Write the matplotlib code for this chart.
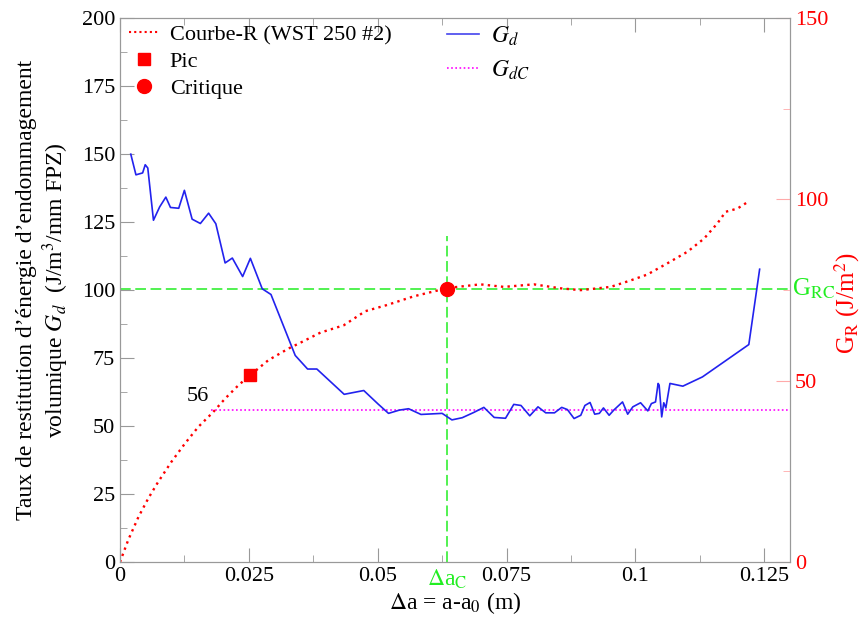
import numpy as np
import matplotlib
matplotlib.use('Agg')
import matplotlib.pyplot as plt
from matplotlib.ticker import MultipleLocator
from matplotlib.lines import Line2D

plt.rcParams['font.family'] = ['Liberation Serif', 'DejaVu Serif']
plt.rcParams['mathtext.fontset'] = 'stix'

# Gd (left axis)
gd_x = [0.0021, 0.0031, 0.0044, 0.0049, 0.0054, 0.0065, 0.0077, 0.0089, 0.0098, 0.0114,
        0.0125, 0.0140, 0.0156, 0.0172, 0.0186, 0.0204, 0.0218, 0.0238, 0.0253, 0.0276,
        0.0293, 0.0340, 0.0364, 0.0382, 0.0435, 0.0473, 0.0501, 0.0521, 0.0542, 0.0560,
        0.0584, 0.0625, 0.0644, 0.0664, 0.0686, 0.0706, 0.0726, 0.0748, 0.0764, 0.0778,
        0.0795, 0.0811, 0.0826, 0.0843, 0.0857, 0.0868, 0.0881, 0.0894, 0.0902, 0.0912,
        0.0921, 0.0930, 0.0938, 0.0949, 0.0958, 0.0975, 0.0985, 0.0995, 0.1010, 0.1024,
        0.1031, 0.1039, 0.1044, 0.1046, 0.1051, 0.1055, 0.1059, 0.1067, 0.1092, 0.1130,
        0.1220, 0.1241]
gd_y = [150, 142.4, 143.1, 146.1, 144.9, 125.7, 130.6, 134.2, 130.4, 130.1,
        136.7, 126.1, 124.5, 128.3, 124.4, 110.0, 111.8, 105.0, 111.7, 100.5,
        98.4, 76.0, 71.0, 71.0, 61.7, 63.1, 58.1, 54.7, 55.9, 56.4,
        54.3, 54.7, 52.3, 53.1, 55.0, 56.9, 53.2, 52.9, 58.0, 57.6,
        53.8, 57.1, 54.9, 54.9, 56.9, 56.1, 52.8, 54.0, 57.6, 58.7,
        54.4, 54.7, 56.7, 54.0, 55.9, 58.9, 54.4, 57.1, 58.6, 55.6,
        58.3, 58.9, 65.7, 65.1, 53.4, 58.6, 56.7, 65.7, 64.7, 68.1,
        80.0, 107.7]

# R-curve (right axis)
gr_x = [0, 0.0016, 0.0036, 0.0055, 0.0074, 0.0100, 0.0126, 0.0152, 0.0181, 0.0204,
        0.0230, 0.0253, 0.0288, 0.0327, 0.0350, 0.0389, 0.0434, 0.0476, 0.0518, 0.0570,
        0.0636, 0.0699, 0.0745, 0.0803, 0.0855, 0.0894, 0.0952, 0.0991, 0.1023, 0.1062,
        0.1101, 0.1133, 0.1159, 0.1175, 0.1198, 0.1220]
gr_y = [0, 6.1, 12.5, 17.6, 22.1, 27.7, 32.7, 37.3, 41.4, 45.1,
        48.8, 51.6, 55.7, 58.9, 60.5, 63.3, 65.3, 69.2, 70.9, 73.3,
        75.6, 76.6, 75.9, 76.6, 75.5, 75.0, 75.9, 77.7, 79.3, 82.4,
        85.6, 89.2, 93.4, 96.6, 97.5, 99.5]

pic = (0.0253, 51.6)
crit = (0.0635, 75.4)
gdc = 56
grc_left = 100.5
da_c = 0.0635

green = '#22ee22'

fig = plt.figure(figsize=(8.68, 6.26), dpi=100)
ax = fig.add_axes([0.1382, 0.102, 0.772, 0.869])
ax2 = ax.twinx()

ax.set_xlim(0, 0.13)
ax.set_ylim(0, 200)
ax2.set_ylim(0, 150)

ax.axhline(grc_left, color=green, lw=1.1, ls=(0, (7, 3)), zorder=1)
ax.plot([da_c, da_c], [0, 120], color=green, lw=1.1, ls=(0, (7, 3)), zorder=1)
ax.plot([0.0177, 0.13], [gdc, gdc], color='magenta', lw=1.2, ls=(0, (1, 1.5)))
ax.plot(gd_x, gd_y, color='#2222ee', lw=1.2)
ax.text(0.0172, gdc + 1.5, '56', fontsize=16, ha='right', va='bottom')

ax2.plot(gr_x, gr_y, color='red', lw=1.7, ls=(0, (1, 1.8)))
ax2.plot(*pic, 's', color='red', ms=9)
ax2.plot(*crit, 'o', color='red', ms=10)

ax.set_xticks([0, 0.025, 0.05, 0.075, 0.1, 0.125])
ax.set_xticklabels(['0', '0.025', '0.05', '0.075', '0.1', '0.125'])
ax.xaxis.set_minor_locator(MultipleLocator(0.0125))
ax.yaxis.set_major_locator(MultipleLocator(25))
ax.yaxis.set_minor_locator(MultipleLocator(12.5))
ax2.yaxis.set_major_locator(MultipleLocator(50))
ax2.yaxis.set_minor_locator(MultipleLocator(25))

ax.tick_params(which='both', direction='in', color='#999999', top=True, labelsize=16)
ax.tick_params(which='major', length=10)
ax.tick_params(which='minor', length=5)
ax2.tick_params(which='both', direction='in', color='#ffaaaa', labelcolor='red', labelsize=16)
ax2.tick_params(which='major', length=10)
ax2.tick_params(which='minor', length=5)
for a in (ax, ax2):
    for s in a.spines.values():
        s.set_color('#999999')

ax.set_xlabel(r'$\Delta$a = a-a$_0$ (m)', fontsize=17, labelpad=3)
ax.set_ylabel("Taux de restitution d\u2019\u00e9nergie d\u2019endommagement\n"
              r"volumique $G_d$  (J/m$^3$/mm FPZ)", fontsize=17, labelpad=8, linespacing=1.15)
fig.text(0.976, 0.515, r'G$_\mathrm{R}$ (J/m$^2$)', color='red', fontsize=18,
         rotation=90, ha='center', va='center')

ax.text(da_c, -0.01, r'$\Delta$a$_\mathrm{C}$', transform=ax.get_xaxis_transform(),
        color=green, fontsize=17, ha='center', va='top')
ax.text(1.003, grc_left, r'G$_\mathrm{RC}$', transform=ax.get_yaxis_transform(),
        color=green, fontsize=18, ha='left', va='center')

h1 = [Line2D([], [], color='red', lw=1.5, ls=(0, (1, 1.5))),
      Line2D([], [], color='red', marker='s', ls='none', ms=9),
      Line2D([], [], color='red', marker='o', ls='none', ms=10)]
leg1 = ax.legend(h1, ['Courbe-R (WST 250 #2)', 'Pic', 'Critique'], loc='upper left',
                 bbox_to_anchor=(-0.017, 1.025), frameon=False, fontsize=16,
                 handlelength=1.35, labelspacing=0.28, handletextpad=0.5)
ax.add_artist(leg1)
h2 = [Line2D([], [], color='#4444ee', lw=1.2),
      Line2D([], [], color='magenta', lw=1.2, ls=(0, (1, 1.5)))]
ax.legend(h2, [r'$G_d$', r'$G_{dC}$'], loc='upper left', bbox_to_anchor=(0.457, 1.027),
          frameon=False, fontsize=17, handlelength=1.35, labelspacing=0.45, handletextpad=0.5)

fig.savefig('out.png', dpi=100)
